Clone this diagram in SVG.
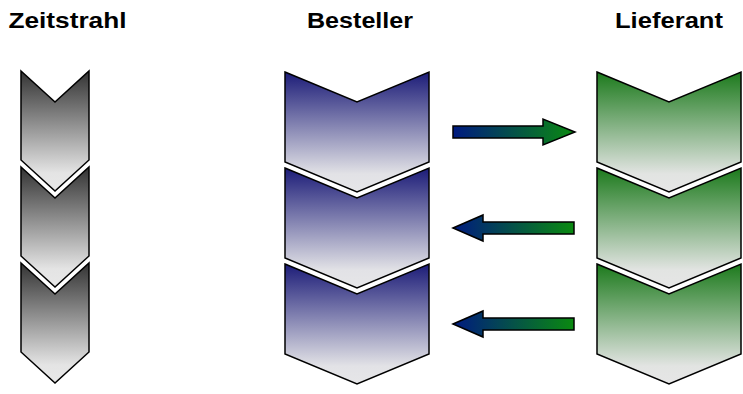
<svg xmlns="http://www.w3.org/2000/svg" width="743" height="394" viewBox="0 0 743 394">
  <defs>
    <linearGradient id="gGray" x1="0" y1="0" x2="0" y2="1">
      <stop offset="0" stop-color="#333333"/>
      <stop offset="0.85" stop-color="#e4e4e4"/>
      <stop offset="1" stop-color="#e8e8e8"/>
    </linearGradient>
    <linearGradient id="gBlue" x1="0" y1="0" x2="0" y2="1">
      <stop offset="0" stop-color="#1c1c78"/>
      <stop offset="0.85" stop-color="#e2e2e6"/>
      <stop offset="1" stop-color="#e6e6e8"/>
    </linearGradient>
    <linearGradient id="gGreen" x1="0" y1="0" x2="0" y2="1">
      <stop offset="0" stop-color="#1c7a1c"/>
      <stop offset="0.85" stop-color="#e2e4e2"/>
      <stop offset="1" stop-color="#e6e6e6"/>
    </linearGradient>
    <linearGradient id="gArrow" x1="0" y1="0" x2="1" y2="0">
      <stop offset="0" stop-color="#001a80"/>
      <stop offset="1" stop-color="#0a8a10"/>
    </linearGradient>
  </defs>
  <style>
    .title { font-family: "Liberation Sans", Arial, sans-serif; font-weight: bold; font-size: 21.5px; fill: #000; text-anchor: middle; }
    .chev { stroke: #000; stroke-width: 1.5; stroke-linejoin: miter; }
    .gray { fill: url(#gGray); }
    .blue { fill: url(#gBlue); }
    .green { fill: url(#gGreen); }
    .arrow { fill: url(#gArrow); stroke: #000; stroke-width: 1.5; stroke-linejoin: miter; }
  </style>

  <g id="title-zeitstrahl"><text class="title" x="67.5" y="28" textLength="118" lengthAdjust="spacingAndGlyphs">Zeitstrahl</text></g>
  <g id="title-besteller"><text class="title" x="360" y="28" textLength="106" lengthAdjust="spacingAndGlyphs">Besteller</text></g>
  <g id="title-lieferant"><text class="title" x="669" y="28" textLength="108" lengthAdjust="spacingAndGlyphs">Lieferant</text></g>

  <g id="zeitstrahl-1"><path class="chev gray" d="M21,71 L55,102 L89,71 L89,160 L55,191 L21,160 Z"/></g>
  <g id="zeitstrahl-2"><path class="chev gray" d="M21,167 L55,198 L89,167 L89,256 L55,287 L21,256 Z"/></g>
  <g id="zeitstrahl-3"><path class="chev gray" d="M21,263 L55,294 L89,263 L89,352 L55,383 L21,352 Z"/></g>

  <g id="besteller-1"><path class="chev blue" d="M285,72 L357,102 L429,72 L429,162 L357,192 L285,162 Z"/></g>
  <g id="besteller-2"><path class="chev blue" d="M285,168 L357,198 L429,168 L429,258 L357,288 L285,258 Z"/></g>
  <g id="besteller-3"><path class="chev blue" d="M285,264 L357,294 L429,264 L429,354 L357,384 L285,354 Z"/></g>

  <g id="lieferant-1"><path class="chev green" d="M597,72 L669,102 L741,72 L741,162 L669,192 L597,162 Z"/></g>
  <g id="lieferant-2"><path class="chev green" d="M597,168 L669,198 L741,168 L741,258 L669,288 L597,258 Z"/></g>
  <g id="lieferant-3"><path class="chev green" d="M597,264 L669,294 L741,264 L741,354 L669,384 L597,354 Z"/></g>

  <g id="connectors">
    <path class="arrow" d="M453,126 L543,126 L543,119 L575,132 L543,145 L543,138 L453,138 Z"/>
    <path class="arrow" d="M453,228 L483,215 L483,222 L574,222 L574,234 L483,234 L483,241 Z"/>
    <path class="arrow" d="M453,324 L483,311 L483,318 L574,318 L574,330 L483,330 L483,337 Z"/>
  </g>
</svg>
